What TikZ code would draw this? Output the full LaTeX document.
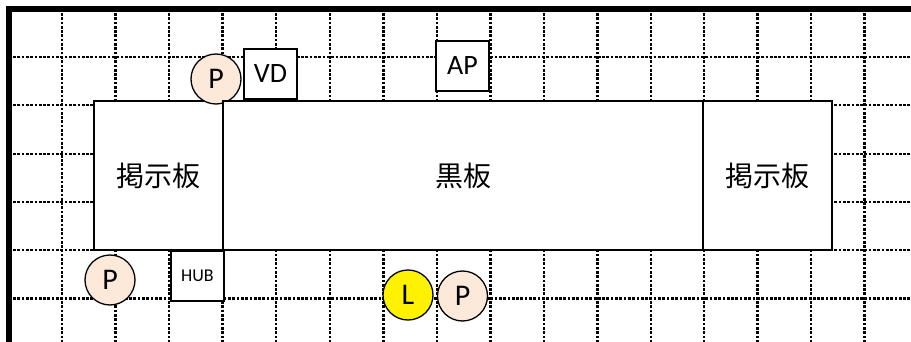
\documentclass[tikz,border=0pt]{standalone}
\usepackage{fontspec}
\setmainfont{Carlito}
\newfontfamily\jpfont{Noto Sans CJK JP}
\usetikzlibrary{positioning}
\definecolor{peach}{HTML}{FDE9D9}

\tikzset{
  gridline/.style={line width=2.2pt, dash pattern=on 2.7pt off 1.6pt},
  wall/.style={line width=6pt},
  board/.style={draw, fill=white, line width=1.6pt, outer sep=0pt, minimum height=149pt, font=\jpfont\fontsize{28}{28}\selectfont},
  device/.style={draw, fill=white, line width=1.8pt, outer sep=0pt, minimum width=53pt, minimum height=50pt, inner sep=0pt, font=\fontsize{28}{28}\selectfont},
  person/.style={circle, draw, fill=#1, line width=1.3pt, minimum size=50pt, inner sep=0pt, font=\fontsize{30}{30}\selectfont},
  person/.default={peach}
}

\begin{document}
\begin{tikzpicture}[x=1pt, y=-1pt]
  \useasboundingbox (0,0) rectangle (911,342);
  \foreach \gx in {62,115.5,169,222.5,276,330,383.5,437,490.5,544,597.5,651,704,757.5,811,864.5}
    \draw[gridline] (\gx,13) -- (\gx,342);
  \foreach \gy in {57,105,153.7,202,250,298.5}
    \draw[gridline] (13,\gy) -- (911,\gy);
  \draw[wall] (9,342) -- (9,9) -- (911,9);

  \node[board, minimum width=129pt, anchor=north west] (board-L) at (94,101) {掲示板};
  \node[person] (P-top) at (216,79) {P};
  \node[board, minimum width=480pt, right=0pt of board-L] (blackboard) {黒板};
  \node[board, minimum width=129pt, right=0pt of blackboard] (board-R) {掲示板};

  \node[device, anchor=south west] (VD) at (244,99) {VD};
  \node[device, anchor=north west] (AP) at (436,41) {AP};
  \node[device, anchor=north, font=\fontsize{18}{18}\selectfont] (HUB) at (197.5,251) {HUB};

  \node[person] (P-left) at (110,280) {P};
  \node[person=yellow] (L) at (408,295) {L};
  \node[person] (P-mid) at (462.5,296) {P};
\end{tikzpicture}
\end{document}
